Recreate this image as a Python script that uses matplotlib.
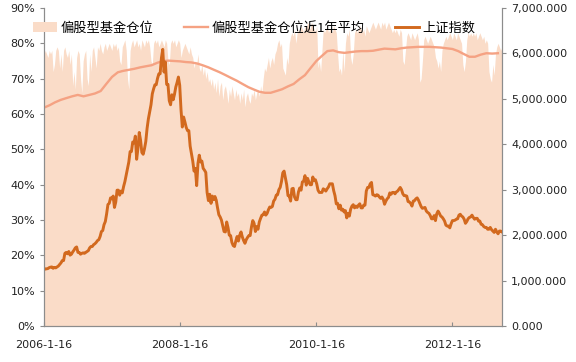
import matplotlib
matplotlib.use('Agg')
import matplotlib.pyplot as plt
import matplotlib.ticker as mticker
from matplotlib.patches import Patch
from matplotlib.lines import Line2D
import pandas as pd

plt.rcParams['font.family'] = ['Noto Sans CJK SC', 'DejaVu Sans']

# weekly fund position (%), visible envelope of the area, from 2006-01-16
position = [
    77, 78, 77, 76, 78, 77, 78, 72, 74, 78,
    79, 78, 73, 77, 72, 78, 79, 77, 76, 78,
    74, 77, 68, 72, 67, 76, 78, 77, 70, 66,
    75, 77, 78, 70, 68, 77, 72, 78, 79, 76,
    73, 79, 78, 80, 78, 77, 79, 80, 78, 79,
    80, 79, 78, 80, 79, 80, 78, 79, 75, 74,
    79, 80, 81, 78, 70, 67, 78, 80, 81, 79,
    80, 81, 79, 80, 78, 81, 80, 79, 81, 80,
    81, 79, 75, 74, 80, 81, 80, 81, 79, 80,
    81, 80, 79, 81, 80, 75, 74, 80, 81, 80,
    81, 79, 80, 81, 80, 76, 78, 79, 80, 79,
    78, 77, 79, 77, 76, 73, 75, 74, 77, 73,
    72, 74, 71, 73, 70, 72, 69, 70, 68, 70,
    67, 69, 66, 70, 65, 68, 69, 64, 67, 68,
    66, 63, 67, 65, 68, 66, 64, 67, 65, 66,
    63, 66, 64, 67, 62, 65, 66, 64, 63, 66,
    65, 67, 64, 66, 67, 65, 68, 66, 70, 73,
    72, 74, 76, 73, 75, 76, 74, 77, 78, 80,
    81, 79, 80, 73, 72, 71, 76, 74, 80, 82,
    83, 82, 84, 80, 83, 84, 83, 85, 84, 83,
    85, 84, 86, 85, 84, 86, 85, 84, 83, 85,
    73, 75, 72, 78, 84, 83, 84, 85, 83, 84,
    84, 83, 85, 84, 83, 77, 72, 73, 71, 78,
    72, 80, 83, 82, 84, 76, 74, 77, 83, 84,
    83, 84, 85, 84, 83, 84, 82, 85, 84, 83,
    84, 85, 86, 85, 84, 85, 86, 85, 84, 86,
    85, 86, 84, 85, 86, 85, 84, 83, 84, 83,
    84, 83, 82, 84, 83, 75, 74, 78, 82, 83,
    82, 81, 83, 82, 81, 82, 83, 81, 69, 70,
    75, 81, 82, 81, 80, 81, 82, 81, 80, 79,
    76, 75, 73, 75, 72, 78, 80, 81, 82, 81,
    82, 83, 82, 81, 83, 82, 81, 83, 82, 81,
    80, 74, 72, 75, 81, 83, 82, 83, 82, 83,
    82, 83, 81, 82, 83, 82, 81, 82, 80, 81,
    80, 72, 70, 69, 74, 71, 77, 79, 80, 79,
    78, 79,
]

# 1-year average of fund position (%), monthly from 2006-01-16
position_avg = [
    61.8, 62.5, 63.3, 64.0, 64.5, 65.0, 65.4, 65.0, 65.4, 65.8,
    66.5, 68.5, 70.5, 71.8, 72.2, 72.5, 72.8, 73.2, 73.5, 73.8,
    74.5, 75.0, 75.1, 75.0, 74.9, 74.7, 74.6, 74.3, 73.8, 73.2,
    72.5, 71.8, 71.0, 70.2, 69.4, 68.5, 67.6, 66.9, 66.3, 66.0,
    66.0, 66.5, 67.0, 67.8, 68.5, 69.8, 71.0, 73.0, 75.0, 76.5,
    77.8, 78.0, 77.5, 77.3, 77.5, 77.7, 77.8, 77.8, 77.9, 78.2,
    78.5, 78.4, 78.3, 78.6, 78.8, 78.9, 79.0, 79.0, 79.0, 78.9,
    78.8, 78.6, 78.4, 77.8, 77.0, 76.2, 76.2, 76.8, 77.2, 77.1,
    77.2,
]

# Shanghai composite, weekly
sh_2006 = [1240, 1258, 1258, 1265, 1285, 1295, 1300, 1270, 1290, 1280,
           1300, 1320, 1355, 1390, 1440, 1440, 1600, 1620, 1590, 1640,
           1560, 1580, 1630, 1670, 1720, 1740, 1620, 1620, 1580, 1600,
           1610, 1600, 1620, 1640, 1660, 1720, 1750, 1750, 1790, 1810,
           1840, 1880, 1900, 1970, 2080, 2100, 2230, 2300, 2470, 2675]
sh_2007 = [2700, 2820, 2800, 2860, 2610, 2730, 2990, 2990, 2880, 2970,
           2930, 3070, 3180, 3320, 3450, 3610, 3840, 3840, 4050, 4030,
           4180, 3670, 3910, 4260, 4090, 3820, 3780, 3900, 4060, 4350,
           4560, 4710, 4870, 5110, 5220, 5310, 5310, 5450, 5550, 5550,
           5900, 6090, 5590, 5810, 5320, 5320, 4960, 4870, 5090, 4980,
           5100, 5260, 5360]
sh_2008 = [5480, 5300, 4760, 4380, 4600, 4490, 4370, 4300, 4300, 3960,
           3800, 3630, 3410, 3470, 3090, 3580, 3760, 3610, 3630, 3470,
           3430, 3380, 2940, 2760, 2900, 2700, 2860, 2780, 2850, 2770,
           2600, 2450, 2400, 2330, 2200, 2080, 2070, 2290, 2170, 2000,
           1990, 1840, 1770, 1750, 1870, 1970, 1870, 2000, 2070, 1960,
           1880, 1820]
sh_2009 = [1900, 1950, 1990, 1990, 2180, 2320, 2260, 2080, 2190, 2130,
           2290, 2370, 2440, 2450, 2510, 2440, 2480, 2560, 2620, 2610,
           2630, 2750, 2790, 2880, 2890, 3000, 3050, 3180, 3370, 3410,
           3260, 3110, 2870, 2860, 2750, 3020, 3030, 2840, 2780, 2780,
           2950, 3040, 2990, 3170, 3190, 3310, 3100, 3250, 3170, 3110,
           3110, 3280]
sh_2010 = [3200, 3220, 3130, 2990, 2940, 2940, 2940, 3020, 3000, 2970,
           3020, 3060, 3130, 3130, 3130, 2980, 2870, 2690, 2700, 2580,
           2660, 2550, 2570, 2510, 2540, 2380, 2480, 2420, 2570, 2640,
           2670, 2600, 2640, 2610, 2660, 2690, 2600, 2600, 2660, 2660,
           2970, 3050, 3050, 3130, 3160, 2890, 2880, 2860, 2890, 2880,
           2840, 2810]
sh_2011 = [2840, 2790, 2680, 2750, 2800, 2830, 2930, 2900, 2940, 2940,
           2910, 2950, 2970, 3010, 3050, 3000, 2910, 2870, 2870, 2860,
           2740, 2730, 2700, 2640, 2750, 2760, 2800, 2820, 2770, 2700,
           2630, 2590, 2600, 2610, 2530, 2500, 2480, 2430, 2360, 2360,
           2430, 2320, 2470, 2530, 2480, 2420, 2400, 2360, 2310, 2220,
           2200, 2200]
sh_2012 = [2160, 2250, 2320, 2320, 2330, 2350, 2360, 2440, 2460, 2420,
           2400, 2350, 2260, 2300, 2360, 2390, 2400, 2440, 2390, 2350,
           2370, 2370, 2310, 2310, 2240, 2230, 2190, 2170, 2170, 2130,
           2130, 2170, 2120, 2090, 2060, 2130, 2070, 2030, 2090, 2090,
           2070]
sh_index = sh_2006 + sh_2007 + sh_2008 + sh_2009 + sh_2010 + sh_2011 + sh_2012

xtick_dates = ['2006-01-16', '2008-01-16', '2010-01-16', '2012-01-16']
xtick_labels = ['2006-1-16', '2008-1-16', '2010-1-16', '2012-1-16']
labels = ['偏股型基金仓位', '偏股型基金仓位近1年平均', '上证指数']

AREA = '#FADCC8'
AVG = '#F5A283'
IDX = '#D2691E'

weeks = pd.date_range('2006-01-16', periods=len(sh_index), freq='W-MON')
pos_weeks = weeks[:len(position)]
months = pd.date_range('2006-01-16', periods=len(position_avg), freq=pd.DateOffset(months=1))

fig = plt.figure(figsize=(5.76, 3.62), dpi=100)
ax = fig.add_axes([44 / 576, 1 - 326 / 362, 458 / 576, 318 / 362])
ax.fill_between(pos_weeks, position, 0, color=AREA, lw=0)
ax.plot(months, position_avg, color=AVG, lw=1.7)

ax2 = ax.twinx()
ax2.plot(weeks, sh_index, color=IDX, lw=2.1)

ax.set_ylim(0, 90)
ax.set_yticks(range(0, 91, 10))
ax.yaxis.set_major_formatter(mticker.FuncFormatter(lambda v, p: '{:.0f}%'.format(v)))
ax2.set_ylim(0, 7000)
ax2.set_yticks(range(0, 7001, 1000))
ax2.yaxis.set_major_formatter(mticker.FuncFormatter(lambda v, p: '{:,.3f}'.format(v)))

ax.set_xlim(weeks[0], weeks[-1])
ax.set_xticks(pd.to_datetime(xtick_dates))
ax.set_xticklabels(xtick_labels)

for a in (ax, ax2):
    for s in a.spines.values():
        s.set_color('#8c8c8c')
        s.set_linewidth(0.8)
    a.spines['top'].set_visible(False)
    a.tick_params(labelsize=8, colors='#8c8c8c', labelcolor='#222222', length=3, width=0.8)
    for t in a.get_xticklabels() + a.get_yticklabels():
        t.set_family('DejaVu Sans')
ax.tick_params(axis='x', direction='in', pad=10)

handles = [Patch(facecolor=AREA, edgecolor='none'),
           Line2D([], [], color=AVG, lw=1.7),
           Line2D([], [], color=IDX, lw=2.1)]
fig.legend(handles, labels, loc='center left', bbox_to_anchor=(33 / 576, 1 - 28 / 362),
           ncol=3, frameon=False, fontsize=9.5, handlelength=1.8, handletextpad=0.3,
           columnspacing=2.3, borderaxespad=0, borderpad=0)

fig.savefig('out.png', dpi=100)
